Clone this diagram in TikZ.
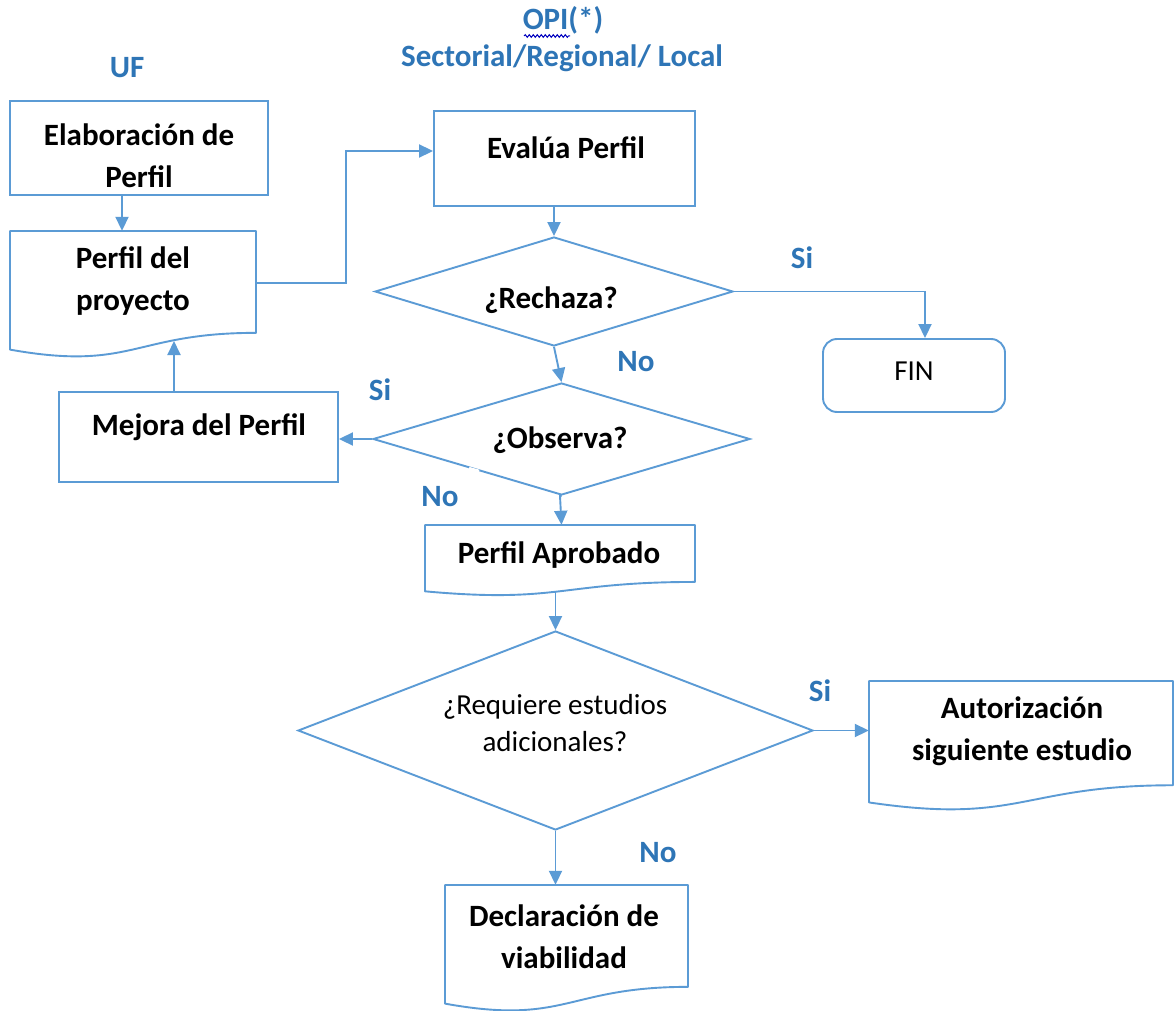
\documentclass[tikz,border=0pt]{standalone}
\usepackage{fontspec}
\setmainfont{Carlito}
\usetikzlibrary{arrows.meta,shapes.geometric,decorations.pathmorphing}
\definecolor{flowline}{RGB}{91,155,213}
\definecolor{labelblue}{RGB}{46,117,182}

% document symbol: name, left, top, right, nominal height
\newcommand\docframe[5]{%
  \node[inner sep=0pt, minimum width={(#4-#2)*1pt}, minimum height=#5pt]
    (#1) at ({(#2+#4)/2},{#3+#5/2}) {};
  \draw[flow, line join=round] (#2,#3) -- (#4,#3) -- (#4,{#3+0.802*#5})
    .. controls ({(#2+#4)/2},{#3+0.802*#5}) and ({(#2+#4)/2},{#3+1.107*#5})
    .. (#2,{#3+0.934*#5}) -- cycle;}

\begin{document}
\begin{tikzpicture}[x=1pt,y=-1pt,
  flow/.style={draw=flowline, line width=1.9pt},
  rectbox/.style={flow, rectangle, inner sep=0pt},
  decision/.style={flow, diamond, inner sep=0pt},
  txt/.style={font=\fontsize{31}{42}\selectfont\bfseries, align=center, inner sep=0pt},
  plain/.style={font=\fontsize{29}{37}\selectfont, align=center, inner sep=0pt},
  tag/.style={font=\fontsize{31}{38}\selectfont\bfseries, text=labelblue, inner sep=0pt},
  arrow/.style={draw=flowline, line width=1.9pt, -{Triangle[length=14pt,width=13pt]}}]

\useasboundingbox[fill=white] (0,0) rectangle (1175,1011);

% column headings
\node[tag] (uf) at (127,68) {UF};
\node[tag] (opi) at (563,20) {OPI(*)};
\node[tag] (opi2) at (562,58) {Sectorial/Regional/ Local};
\draw[blue!75!black, line width=1pt, decorate,
  decoration={snake, amplitude=1.3pt, segment length=4pt}] (524,36) -- (570,36);

% boxes
\node[rectbox, minimum width=258pt, minimum height=94pt] (elab) at (139,148) {};
\docframe{perfil}{10}{231}{256}{127}
\node[rectbox, minimum width=279pt, minimum height=90pt] (mejora) at (198.5,437) {};
\node[rectbox, minimum width=261pt, minimum height=95pt] (evalua) at (564.5,158.5) {};
\node[flow, rounded corners=14pt, minimum width=182pt, minimum height=73pt, inner sep=0pt] (fin) at (914,375.5) {};
\docframe{aprobado}{425}{525}{695}{71}
\docframe{autoriz}{869}{681}{1173}{130}
\docframe{declar}{445}{885}{688}{127}

% decisions
\node[decision, minimum width=358pt, minimum height=109pt] (rechaza) at (554,291.5) {};
\node[decision, minimum width=377pt, minimum height=112pt] (observa) at (561.5,439) {};
\node[decision, minimum width=515pt, minimum height=199pt] (requiere) at (555.5,730.5) {};
\draw[white, line width=3.5pt] (469,468.6) -- (479,471.4);

% texts
\node[txt] (elab-t) at (139,156) {Elaboración de\\Perfil};
\node[txt] (perfil-t) at (133,281) {Perfil del\\proyecto};
\node[txt] (mejora-t) at (199,427) {Mejora del Perfil};
\node[txt] (evalua-t) at (566,148) {Evalúa Perfil};
\node[txt] (rechaza-t) at (551,300) {¿Rechaza?};
\node[plain] (fin-t) at (914,371) {FIN};
\node[txt] (observa-t) at (560,440) {¿Observa?};
\node[txt] (aprobado-t) at (559,555) {Perfil Aprobado};
\node[plain] (requiere-t) at (555,723) {¿Requiere estudios\\adicionales?};
\node[txt] (autoriz-t) at (1022,731) {Autorización\\siguiente estudio};
\node[txt] (declar-t) at (564,937) {Declaración de\\viabilidad};

% branch labels
\node[tag] (si1) at (802,258) {Si};
\node[tag] (no1) at (636,362) {No};
\node[tag] (si2) at (380,390) {Si};
\node[tag] (no2) at (440,497) {No};
\node[tag] (si3) at (820,691) {Si};
\node[tag] (no3) at (658,853) {No};

% connectors
\coordinate (e1) at ([xshift=-17pt]elab.south);
\draw[arrow] (e1) -- (e1 |- perfil.north);
\draw[arrow] ([yshift=11.5pt]perfil.east) -| ([xshift=-87pt,yshift=7.5pt]evalua.west)
  -- ([yshift=7.5pt]evalua.west);
\draw[arrow] (evalua.south -| rechaza.north) -- (rechaza.north);
\draw[arrow] (rechaza.east) -| ([xshift=11pt]fin.north);
\draw[arrow] (rechaza.south) -- (observa.north);
\draw[arrow] (observa.west) -- (observa.west -| mejora.east);
\coordinate (m1) at ([xshift=-24.5pt]mejora.north);
\coordinate (pb) at (174,341);
\draw[arrow] (m1) -- (pb);
\draw[arrow] (observa.south) -- (observa.south -| aprobado.north) -- (aprobado.north -| observa.south);
\coordinate (ab) at (555.5,591);
\draw[arrow] (ab) -- (requiere.north);
\draw[arrow] (requiere.east) -- (requiere.east -| autoriz.west);
\draw[arrow] (requiere.south) -- (requiere.south |- declar.north);
\end{tikzpicture}
\end{document}
